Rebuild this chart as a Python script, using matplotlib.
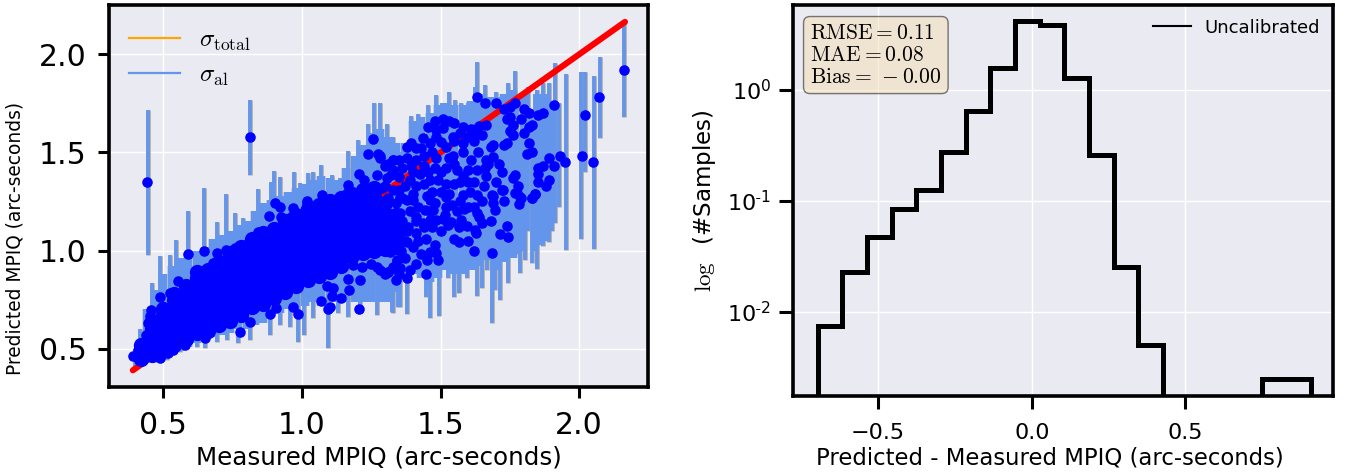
import matplotlib
matplotlib.use("Agg")
import matplotlib.pyplot as plt
import numpy as np

plt.rcParams['mathtext.fontset'] = 'cm'

# left panel: line of equality
line_ends = [0.39, 2.165]

# wide uncertainty bars that make up the solid band: x, lower end, upper end
band_x = [.44, .47, .50, .53, .56, .59, .62, .65, .68, .71, .74, .77, .80, .83, .86, .89, .92, .95, .98, 1.01, 1.04,
          1.07, 1.10, 1.13, 1.16, 1.19, 1.22, 1.25, 1.28, 1.31, 1.34, 1.37, 1.40, 1.43, 1.46, 1.49, 1.52, 1.55, 1.58,
          1.61, 1.64, 1.67, 1.70, 1.73, 1.76]
band_low = [.44, .44, .45, .47, .49, .51, .53, .54, .56, .57, .58, .60, .60, .62, .63, .66, .68, .70, .70, .72, .74,
            .72, .74, .74, .74, .74, .74, .74, .74, .74, .79, .85, .88, .86, .84, .86, .90, .88, .88,
            .90, .92, .95, .90, .94, .96]
band_high = [.70, .80, .88, .92, .96, .98, 1.0, 1.02, 1.06, 1.08, 1.10, 1.13, 1.15, 1.20, 1.24, 1.26, 1.28, 1.30, 1.32,
             1.34, 1.36, 1.38, 1.37, 1.36, 1.42, 1.48, 1.54, 1.60, 1.62, 1.58, 1.55, 1.55, 1.66, 1.68, 1.70, 1.74, 1.75,
             1.74, 1.74, 1.76, 1.80, 1.78, 1.78, 1.80, 1.82]

# single bars that stick out of the band: (x, lower end, upper end)
bars_up = [(.446, .975, 1.717), (.814, 1.385, 1.768), (.46, .6, .833), (.488, .6, .97), (.524, .7, .975),
           (.546, .7, 1.054), (.59, .7, 1.204), (.647, .7, 1.32), (.695, .8, 1.144), (.726, .8, 1.288),
           (.758, .8, 1.19), (.786, .8, 1.165), (.843, .9, 1.314), (.887, .9, 1.35), (.90, .9, 1.406),
           (.92, .9, 1.375), (.97, 1, 1.40), (.993, 1, 1.344), (1.02, 1, 1.395), (1.04, 1, 1.40), (1.07, 1, 1.436),
           (1.107, 1, 1.385), (1.137, 1, 1.37), (1.167, 1, 1.508), (1.203, 1, 1.564), (1.237, 1, 1.645),
           (1.26, 1, 1.75), (1.28, 1, 1.75), (1.305, 1, 1.645), (1.329, 1, 1.58), (1.36, 1, 1.50),
           (1.395, 1.1, 1.686), (1.419, 1.1, 1.696), (1.455, 1.1, 1.742), (1.482, 1.1, 1.793), (1.506, 1.1, 1.75),
           (1.531, 1.2, 1.81), (1.551, 1.2, 1.767), (1.575, 1.2, 1.75), (1.60, 1.2, 1.75), (1.624, 1.2, 1.832),
           (1.63, 1.3, 1.959), (1.66, 1.2, 1.844), (1.70, 1.2, 1.81), (1.744, 1.2, 1.852), (1.77, 1.3, 1.915)]
bars_far = [(1.786, .888, 1.6), (1.816, 1.1, 1.835), (1.83, .935, 1.7), (1.846, .905, 1.818), (1.87, 1.024, 1.852),
            (1.892, 1.046, 1.852), (1.914, 1.139, 1.954), (1.928, 1.221, 1.75), (1.954, 1.003, 1.90),
            (2.008, 1.058, 1.908), (2.02, 1.4, 1.912), (2.054, 1.007, 1.89), (2.074, 1.572, 1.988),
            (2.162, 1.682, 2.167), (1.795, 1.0, 1.78), (1.805, .95, 1.8), (1.84, 1.0, 1.8), (1.86, 1.03, 1.8),
            (1.88, 1.05, 1.8), (1.90, 1.1, 1.75), (1.775, .98, 1.75)]
bars_down = [(.398, .41, .5), (.416, .443, .6), (.47, .434, .6), (.512, .443, .6), (.56, .485, .7), (.62, .51, .7),
             (.65, .502, .7), (.692, .536, .8), (.728, .545, .8), (.77, .528, .8), (.812, .545, .9), (.885, .57, .9),
             (.92, .62, .9), (.957, .613, 1), (.987, .536, 1), (1.007, .57, 1), (1.04, .655, 1), (1.095, .502, 1),
             (1.131, .68, 1), (1.167, .664, 1), (1.209, .68, 1), (1.269, .672, 1), (1.323, .689, 1),
             (1.347, .715, 1.1), (1.327, .684, 1), (1.355, .714, 1.1), (1.377, .677, 1.1), (1.413, .884, 1.1),
             (1.449, .762, 1.1), (1.461, .655, 1.1), (1.494, .668, 1.2), (1.527, .859, 1.2), (1.549, .765, 1.2),
             (1.566, .786, 1.2), (1.594, .859, 1.2), (1.63, .769, 1.2), (1.648, .808, 1.2), (1.668, .901, 1.2),
             (1.684, .633, 1.3), (1.696, .799, 1.3), (1.716, .748, 1.3), (1.744, .837, 1.3), (1.764, .986, 1.3)]

# dense part of the cloud, one row of predicted values per measured value
core_x = [.42, .46, .50, .54, .58, .62, .66, .70, .74, .78, .82, .86, .90, .94, .98, 1.02, 1.06, 1.10, 1.14, 1.18,
          1.22, 1.26, 1.30, 1.34]
core_y = [[.45, .48, .52],
          [.47, .50, .55, .60, .64],
          [.49, .52, .57, .62, .67, .70],
          [.52, .55, .60, .65, .70, .75, .78],
          [.55, .58, .63, .68, .73, .78, .82],
          [.58, .61, .66, .71, .76, .81, .86, .89],
          [.59, .62, .67, .72, .77, .82, .87, .90],
          [.62, .65, .70, .75, .80, .85, .90, .94],
          [.64, .67, .72, .77, .82, .87, .92, .97, .99],
          [.67, .70, .75, .80, .85, .90, .95, 1.0, 1.02],
          [.71, .74, .79, .84, .89, .94, .99, 1.04, 1.06],
          [.73, .76, .81, .86, .91, .96, 1.01, 1.06, 1.09],
          [.76, .79, .84, .89, .94, .99, 1.04, 1.09, 1.11],
          [.79, .82, .87, .92, .97, 1.02, 1.07, 1.12, 1.15],
          [.82, .85, .90, .95, 1.0, 1.05, 1.10, 1.15, 1.18],
          [.85, .88, .93, .98, 1.03, 1.08, 1.13, 1.18, 1.21],
          [.87, .90, .95, 1.0, 1.05, 1.10, 1.15, 1.20, 1.23],
          [.89, .92, .97, 1.02, 1.07, 1.12, 1.17, 1.22, 1.25],
          [.92, .95, 1.0, 1.05, 1.10, 1.15, 1.20, 1.25, 1.27],
          [.97, 1.0, 1.05, 1.10, 1.15, 1.20, 1.25, 1.29],
          [.99, 1.02, 1.07, 1.12, 1.17, 1.22, 1.27, 1.31],
          [1.0, 1.03, 1.08, 1.13, 1.18, 1.23, 1.28, 1.32],
          [1.01, 1.04, 1.09, 1.14, 1.19, 1.24],
          [1.02, 1.06, 1.12, 1.18]]

# single points around the dense part
points_edge = [(.392, .463), (.41, .494), (.488, .762), (.454, .698), (.452, .667), (.446, .63), (.437, .57),
               (.59, .98), (.648, .997), (.695, .986), (.726, 1.003), (.758, 1.012), (.806, 1.037), (.843, 1.097),
               (.882, 1.177), (.903, 1.241), (.921, 1.224), (.923, 1.173), (.959, 1.173), (.969, 1.216),
               (1.019, 1.255), (1.035, 1.228), (1.071, 1.284), (1.119, 1.258), (1.161, 1.292), (.554, .847),
               (.524, .786), (.644, .896), (.68, .939), (1.207, .701), (1.095, .701), (1.10, .715), (1.069, .745),
               (1.113, .808), (1.089, .817), (1.167, .854), (1.185, .927), (1.215, .918), (1.272, .915), (1.311, .893),
               (1.335, .91), (1.341, .952), (.987, .677), (.966, .711), (.905, .706), (.885, .677), (.776, .587),
               (.813, .638), (.65, .553), (.578, .519), (.488, .451), (.518, .477), (.536, .494), (.44, 1.35),
               (.814, 1.58), (1.167, 1.334), (1.207, 1.39), (1.237, 1.49), (1.257, 1.57), (1.275, 1.49), (1.281, 1.47),
               (1.327, 1.46), (1.223, 1.36), (1.269, 1.385), (1.30, 1.43), (1.305, 1.37), (1.017, 1.24), (1.185, 1.265)]
points_upper = [(1.63, 1.78), (1.66, 1.75), (1.70, 1.75), (1.73, 1.72), (1.75, 1.73), (1.77, 1.75), (1.80, 1.72),
                (1.82, 1.70), (1.85, 1.69), (1.87, 1.70), (1.91, 1.74), (2.02, 1.69), (2.07, 1.78), (2.16, 1.92),
                (1.74, 1.67), (1.75, 1.68), (1.79, 1.67), (1.76, 1.64), (1.83, 1.64), (1.82, 1.63), (1.75, 1.61),
                (1.76, 1.59), (1.80, 1.60), (1.82, 1.55), (1.81, 1.49), (1.83, 1.50), (1.89, 1.47), (1.93, 1.48),
                (1.95, 1.45), (2.01, 1.48), (2.05, 1.45), (1.87, 1.43), (1.91, 1.43), (1.85, 1.42), (1.85, 1.39),
                (1.89, 1.36), (1.85, 1.35), (1.88, 1.33), (1.76, 1.37), (1.77, 1.385), (1.78, 1.33), (1.77, 1.295),
                (1.84, 1.29), (1.79, 1.27), (1.83, 1.27), (1.455, 1.63), (1.48, 1.66), (1.507, 1.67), (1.53, 1.66),
                (1.55, 1.65), (1.485, 1.615), (1.507, 1.625), (1.58, 1.63), (1.61, 1.62), (1.64, 1.635),
                (1.665, 1.64), (1.63, 1.60), (1.65, 1.59), (1.485, 1.58), (1.545, 1.58), (1.57, 1.60), (1.60, 1.58),
                (1.435, 1.575), (1.46, 1.55), (1.395, 1.55), (1.38, 1.53), (1.41, 1.52), (1.50, 1.555), (1.52, 1.53),
                (1.55, 1.56), (1.58, 1.55), (1.62, 1.56), (1.635, 1.50), (1.68, 1.53), (1.69, 1.54), (1.73, 1.54),
                (1.74, 1.55), (1.665, 1.46), (1.69, 1.475), (1.71, 1.44), (1.67, 1.44), (1.60, 1.41), (1.56, 1.41),
                (1.63, 1.41), (1.61, 1.46), (1.545, 1.48), (1.58, 1.50), (1.33, 1.46), (1.28, 1.48), (1.44, 1.48),
                (1.41, 1.46), (1.485, 1.47), (1.395, 1.43), (1.50, 1.40), (1.455, 1.40), (1.425, 1.39), (1.665, 1.38),
                (1.70, 1.35), (1.725, 1.31), (1.69, 1.28), (1.62, 1.35), (1.57, 1.35), (1.52, 1.34), (1.49, 1.36),
                (1.44, 1.34), (1.39, 1.36), (1.35, 1.375), (1.32, 1.385), (1.29, 1.32), (1.35, 1.31), (1.40, 1.29),
                (1.47, 1.30), (1.53, 1.29), (1.605, 1.30), (1.655, 1.33)]
points_lower = [(1.687, 1.283), (1.69, 1.24), (1.696, 1.207), (1.64, 1.173), (1.63, 1.19), (1.648, 1.143),
                (1.627, 1.09), (1.624, 1.105), (1.575, 1.156), (1.596, 1.125), (1.567, 1.119), (1.515, 1.18),
                (1.527, 1.13), (1.536, 1.148), (1.449, 1.058), (1.479, 1.029), (1.461, .995), (1.485, .986),
                (1.491, .952), (1.548, 1.058), (1.566, 1.046), (1.449, .879), (1.684, .99), (1.714, 1.083),
                (1.744, 1.068), (1.738, 1.126), (1.783, 1.238), (1.786, 1.272), (1.83, 1.267), (1.842, 1.289),
                (1.774, 1.295), (1.723, 1.309), (1.584, 1.212), (1.54, 1.233), (1.473, 1.207), (1.357, .996),
                (1.341, .949), (1.329, .915), (1.355, .913), (1.311, .893), (1.38, 1.046), (1.411, 1.09),
                (1.437, 1.139), (1.461, 1.156), (1.485, 1.156), (1.317, .995), (1.287, 1.02), (1.323, 1.054),
                (1.353, 1.088), (1.383, 1.122), (1.413, 1.173), (1.443, 1.207), (1.353, 1.19), (1.317, 1.139),
                (1.287, 1.088), (1.401, 1.258), (1.461, 1.258), (1.521, 1.275), (1.581, 1.283), (1.63, 1.283),
                (1.305, 1.241), (1.353, 1.275)]
points_mid = [(1.37, 1.05), (1.39, 1.20), (1.36, 1.15), (1.38, 1.26), (1.42, 1.22), (1.44, 1.12), (1.42, 1.05),
              (1.40, 1.02), (1.37, 1.33), (1.41, 1.33), (1.45, 1.28), (1.48, 1.24), (1.50, 1.30), (1.46, 1.36),
              (1.52, 1.42), (1.48, 1.42), (1.44, 1.43), (1.40, 1.40), (1.36, 1.42), (1.33, 1.41), (1.35, 1.46),
              (1.38, 1.47), (1.47, 1.50), (1.43, 1.52), (1.31, 1.44), (1.55, 1.34), (1.58, 1.38), (1.60, 1.35),
              (1.55, 1.44), (1.53, 1.47), (1.57, 1.25), (1.60, 1.22), (1.52, 1.22), (1.47, 1.12), (1.50, 1.10),
              (1.43, .98), (1.41, .93), (1.37, .96), (1.39, .90), (1.45, .95), (1.33, 1.03), (1.65, 1.25),
              (1.62, 1.22), (1.66, 1.42), (1.72, 1.40), (1.73, 1.25), (1.68, 1.15), (1.60, 1.05), (1.62, 1.00),
              (1.38, .86), (1.35, .88), (1.34, .85), (1.30, .88), (1.28, .90), (1.25, .93), (1.21, .85),
              (1.17, .80), (1.14, .76), (1.11, .77), (1.34, 1.24), (1.31, 1.27), (1.36, 1.27), (1.33, 1.31),
              (1.30, 1.33), (1.38, 1.10), (1.41, 1.15), (1.46, 1.20), (1.51, 1.16), (1.56, 1.20)]

# right panel: residual histogram
hist_edges = [-.697, -.617, -.537, -.456, -.376, -.296, -.215, -.135, -.055, .026, .106, .186, .267, .347, .427,
              .507, .588, .668, .748, .828, .909]
hist_values = [.0075, .0229, .047, .0845, .126, .276, .65, 1.58, 4.19, 3.86, 1.28, .261, .0251, .005,
               0, 0, 0, 0, .0025, .0025]

stats_text = "$\\mathrm{RMSE} = 0.11$\n$\\mathrm{MAE} = 0.08$\n$\\mathrm{Bias} = \\,-0.00$"
log_ticks = [.01, .1, 1]
log_tick_labels = ["$\\mathdefault{10^{\\text{-}2}}$", "$\\mathdefault{10^{\\text{-}1}}$", "$\\mathdefault{10^{0}}$"]

W, H = 1363, 475
fig = plt.figure(figsize=(W / 100, H / 100), dpi=100)
ax1 = fig.add_axes([109 / W, 1 - 387 / H, 539 / W, 382 / H])
ax2 = fig.add_axes([793 / W, 1 - 395.7 / H, 540 / W, 390.7 / H])

for ax in (ax1, ax2):
    ax.set_facecolor('#EAEAF2')
    ax.grid(True, color='white', lw=1.0)
    ax.set_axisbelow(True)
    for s in ax.spines.values():
        s.set_linewidth(2.6)
        s.set_color('black')

# bars: tan edge underneath, blue on top
singles = np.array(bars_up + bars_far + bars_down)
ax1.vlines(band_x, band_low, band_high, color='#B0A898', lw=6.1)
ax1.vlines(singles[:, 0], singles[:, 1], singles[:, 2], color='#B0A898', lw=3.3)
ax1.vlines(band_x, band_low, band_high, color='cornflowerblue', lw=6)
ax1.vlines(singles[:, 0], singles[:, 1], singles[:, 2], color='cornflowerblue', lw=2.7)
ax1.plot(line_ends, line_ends, color='red', lw=4.4, solid_capstyle='round')

cx = np.concatenate([[x] * len(r) for x, r in zip(core_x, core_y)])
cy = np.concatenate(core_y)
ax1.plot(cx, cy, 'o', color='blue', ms=11, mew=0)
pts = np.array(points_edge + points_upper + points_lower + points_mid)
ax1.plot(pts[:, 0], pts[:, 1], 'o', color='blue', ms=7.6, mew=0)

ax1.plot([], [], color='orange', lw=1.6, label=r'$\sigma_{\rm total}$')
ax1.plot([], [], color='cornflowerblue', lw=1.6, label=r'$\sigma_{\rm al}$')
ax1.legend(loc='upper left', frameon=False, fontsize=18, handlelength=2.04, handletextpad=0.76,
           labelspacing=0.4, bbox_to_anchor=(0.0, 0.993), borderaxespad=0.4)
ax1.set_xlim(0.304, 2.248)
ax1.set_ylim(0.305, 2.251)
ax1.set_xticks([.5, 1, 1.5, 2])
ax1.set_yticks([.5, 1, 1.5, 2])
ax1.tick_params(axis='x', labelsize=21.5, length=8, width=2.2, pad=9)
ax1.tick_params(axis='y', labelsize=21.5, length=8, width=2.2, pad=8)
ax1.set_xlabel('Measured MPIQ (arc-seconds)', fontsize=17.7, labelpad=4)
ax1.set_ylabel('Predicted MPIQ (arc-seconds)', fontsize=13.4)
ax1.yaxis.set_label_coords(-84 / 539, 0.39)

ax2.stairs(hist_values, hist_edges, color='black', lw=3.6, baseline=1e-4)
ax2.plot([], [], color='black', lw=1.5, label='Uncalibrated')
ax2.set_yscale('log')
ax2.set_xlim(-.777, .98)
ax2.set_ylim(.00175, 5.84)
ax2.set_xticks([-.5, 0, .5])
ax2.set_yticks(log_ticks)
ax2.set_yticklabels(log_tick_labels)
ax2.minorticks_off()
ax2.tick_params(axis='x', labelsize=16, length=9, width=2.2, pad=11)
ax2.tick_params(axis='y', labelsize=16, length=10, width=2.2, pad=6)
ax2.set_xlabel('Predicted - Measured MPIQ (arc-seconds)', fontsize=16.4, x=0.476, labelpad=2)
ax2.set_ylabel(r'$\log$  (#Samples)', fontsize=16.6, labelpad=6)
ax2.legend(loc='upper right', frameon=False, fontsize=13, handlelength=2.1, handletextpad=0.72, borderaxespad=0.35)
ax2.text(0.0315, 0.954, stats_text, transform=ax2.transAxes, fontsize=15.5, va='top', ha='left',
         linespacing=1.13, bbox=dict(boxstyle='round', facecolor='wheat', alpha=0.5, edgecolor='black'))

fig.savefig('out.png', dpi=100)
